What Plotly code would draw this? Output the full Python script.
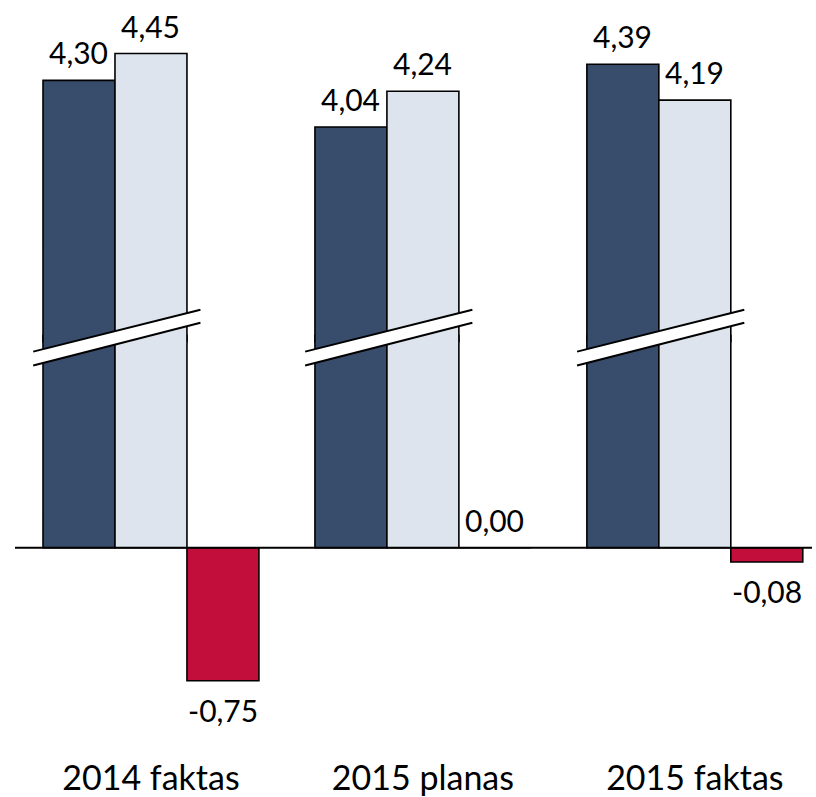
import plotly.graph_objects as go

# ---- data ----
categories = ["2014 faktas", "2015 planas", "2015 faktas"]
series_a = [4.30, 4.04, 4.39]    # dark blue
series_b = [4.45, 4.24, 4.19]    # light blue-grey
series_c = [-0.75, 0.00, -0.08]  # crimson

colors = ["#384C6B", "#DDE4EE", "#C20E3B"]
FONT = "Lato, Open Sans, sans-serif"
LABEL_SIZE = 30
TICK_SIZE = 34

W, H = 816, 797
ML, MR, MT, MB = 15, 0, 0, 39
PH = H - MT - MB          # plot height in px (758)
SEAM = 340                # px from top where the axis break sits
OV = 4                    # px overlap of the two panels (hides the seam)
BAR_PX = 72               # one bar's width in px (for label offsets)

def fmt(v):
    return f"{v:.2f}".replace(".", ",")

fig = go.Figure()
all_series = [series_a, series_b, series_c]
for i, s in enumerate(all_series):
    for yax in ("y", "y2"):
        fig.add_trace(go.Bar(
            x=categories, y=s, xaxis="x", yaxis=yax,
            marker=dict(color=colors[i], line=dict(color="black", width=1.6)),
            cliponaxis=True, showlegend=False, hoverinfo="skip",
        ))

# value labels as annotations (placed on the value through the axes)
annotations = []
for i, s in enumerate(all_series):
    for g, v in enumerate(s):
        neg = v < 0
        annotations.append(dict(
            x=categories[g], y=v, xref="x", yref="y2" if i < 2 else "y",
            text=fmt(v), showarrow=False, xanchor="center",
            yanchor="top" if neg else "bottom",
            xshift=(i - 1) * BAR_PX, yshift=-9 if neg else 8,
            font=dict(family=FONT, size=LABEL_SIZE, color="black")))

# pixel scales
lo_scale = 178.0
hi_scale = 180.0
zero_px = 550
hi_offset = 1.693

lo_top_px = SEAM - OV
hi_bot_px = SEAM + OV
dom_lo = [0, (PH - lo_top_px) / PH]
dom_hi = [(PH - hi_bot_px) / PH, 1]
y_lo = [-(PH - zero_px) / lo_scale, (zero_px - lo_top_px) / lo_scale]
y_hi = [hi_offset + (zero_px - hi_bot_px) / hi_scale, hi_offset + zero_px / hi_scale]

# break symbols (white band with two black edges) in each group
shapes = []
def py2paper(py):
    return (PH - py) / PH
gx0, gx1 = -0.433, 0.182
top_l, top_r, bot_l, bot_r = 353, 311, 367, 324
for g in range(len(categories)):
    x0, x1 = g + gx0, g + gx1
    shapes.append(dict(
        type="path", xref="x", yref="paper",
        path=(f"M {x0},{py2paper(top_l)} L {x1},{py2paper(top_r)} "
              f"L {x1},{py2paper(bot_r)} L {x0},{py2paper(bot_l)} Z"),
        fillcolor="white", line=dict(width=0), layer="above"))
    shapes.append(dict(type="line", xref="x", yref="paper",
                       x0=x0, x1=x1, y0=py2paper(top_l), y1=py2paper(top_r),
                       line=dict(color="black", width=2), layer="above"))
    shapes.append(dict(type="line", xref="x", yref="paper",
                       x0=x0, x1=x1, y0=py2paper(bot_l), y1=py2paper(bot_r),
                       line=dict(color="black", width=2), layer="above"))

# zero line
shapes.append(dict(type="line", xref="paper", yref="y", x0=0, x1=(812 - ML) / (W - ML - MR),
                   y0=0, y1=0, line=dict(color="black", width=2), layer="above"))

fig.update_layout(
    width=W, height=H,
    margin=dict(l=ML, r=MR, t=MT, b=MB),
    paper_bgcolor="white", plot_bgcolor="rgba(0,0,0,0)",
    barmode="group", bargap=0.206, bargroupgap=0,
    showlegend=False,
    font=dict(family=FONT, color="black"),
    xaxis=dict(type="category", anchor="y", range=[-0.5, 2.4456],
               showgrid=False, zeroline=False, showline=False, ticks="",
               tickfont=dict(family=FONT, size=TICK_SIZE, color="black")),
    yaxis=dict(domain=dom_lo, range=y_lo, visible=False, showgrid=False, zeroline=False),
    yaxis2=dict(domain=dom_hi, range=y_hi, visible=False, showgrid=False, zeroline=False),
    shapes=shapes,
    annotations=annotations,
)

fig.write_html("out.html", config={"displayModeBar": False},
               post_script="document.body.style.margin='0';document.body.style.padding='0';")
